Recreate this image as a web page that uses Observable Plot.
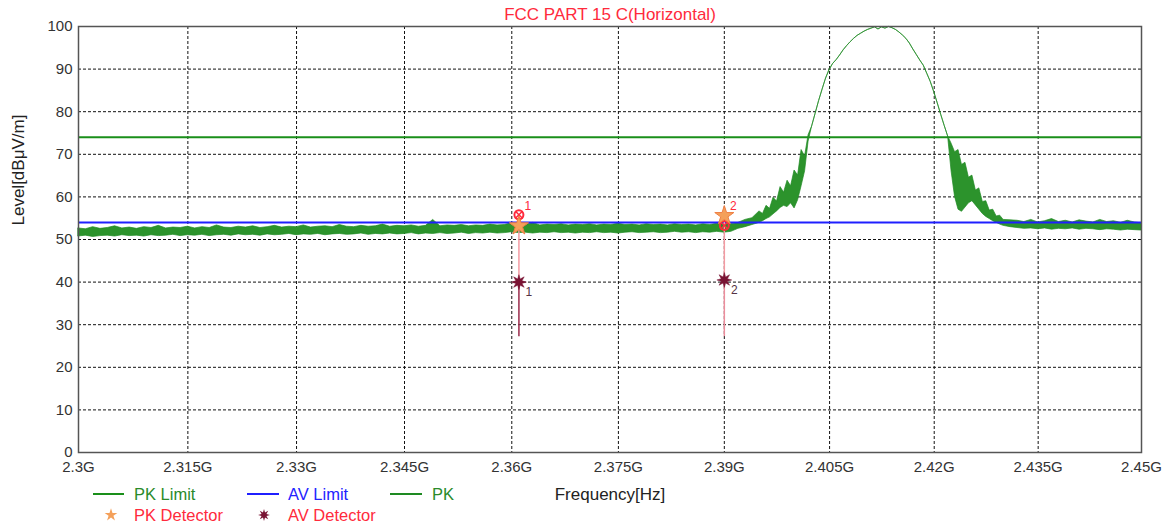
<!DOCTYPE html>
<html>
<head>
<meta charset="utf-8">
<script src="https://cdn.jsdelivr.net/npm/d3@7"></script>
<script src="https://cdn.jsdelivr.net/npm/@observablehq/plot@0.6"></script>
<style>
  body { margin: 0; background: #fff; font-family: Arial, "Liberation Sans", sans-serif; }
  #wrap { position: relative; width: 1169px; height: 527px; overflow: hidden; }
  .lg { position: absolute; font-size: 16.5px; line-height: 18px; white-space: nowrap; }
  .ln { position: absolute; height: 0; border-top: 2px solid; }
  .ic { position: absolute; }
</style>
</head>
<body>
<div id="wrap"></div>
<script>
// ---- chart text ----
const chartTitle = "FCC PART 15 C(Horizontal)";
const yLabel = "Level[dBμV/m]";
const xLabel = "Frequency[Hz]";

// ---- axes ----
const xTicks = [2.3, 2.315, 2.33, 2.345, 2.36, 2.375, 2.39, 2.405, 2.42, 2.435, 2.45];
const xTickLabels = ["2.3G", "2.315G", "2.33G", "2.345G", "2.36G", "2.375G", "2.39G", "2.405G", "2.42G", "2.435G", "2.45G"];
const yTicks = [0, 10, 20, 30, 40, 50, 60, 70, 80, 90, 100];

// ---- limits (dBμV/m) ----
const pkLimit = 74;
const avLimit = 54;

// ---- PK sweep: frequency (MHz) with min / max level per bin (dBμV/m) ----
const traceMHz = [
  2300, 2301, 2302, 2303, 2304, 2305, 2306, 2307, 2308, 2309,
  2310, 2311, 2312, 2313, 2314, 2315, 2316, 2317, 2318, 2319,
  2320, 2321, 2322, 2323, 2324, 2325, 2326, 2327, 2328, 2329,
  2330, 2331, 2332, 2333, 2334, 2335, 2336, 2337, 2338, 2339,
  2340, 2341, 2342, 2343, 2344, 2345, 2346, 2347, 2348, 2349,
  2350, 2351, 2352, 2353, 2354, 2355, 2356, 2357, 2358, 2359,
  2360, 2361, 2362, 2363, 2364, 2365, 2366, 2367, 2368, 2369,
  2370, 2371, 2372, 2373, 2374, 2375, 2376, 2377, 2378, 2379,
  2380, 2381, 2382, 2383, 2384, 2385, 2386, 2387, 2388, 2389,
  2390, 2391,
  2392, 2393, 2394, 2395, 2395.5, 2396, 2396.5, 2397, 2397.5, 2398,
  2398.5, 2399, 2399.5, 2400, 2400.5, 2401, 2401.5, 2402, 2402.5, 2403,
  2403.5, 2404, 2404.5, 2405,
  2405.5, 2406, 2406.5, 2407, 2407.5, 2408, 2408.5, 2409, 2409.5, 2410,
  2410.5, 2411, 2411.5, 2412, 2412.5, 2413, 2413.5, 2414, 2414.5, 2415,
  2415.5, 2416, 2416.5, 2417, 2417.5, 2418, 2418.5, 2419, 2419.5, 2420,
  2420.5, 2421, 2421.5, 2422,
  2422.5, 2423, 2423.5, 2424, 2424.5, 2425, 2425.5, 2426, 2426.5, 2427,
  2427.5, 2428, 2428.5, 2429, 2429.5, 2430, 2431,
  2432, 2433, 2434, 2435, 2436, 2437, 2438, 2439, 2440, 2441,
  2442, 2443, 2444, 2445, 2446, 2447, 2448, 2449, 2450
];
const traceLow = [
  50.7, 50.9, 50.6, 50.8, 50.9, 50.7, 51.0, 50.8, 50.9, 50.7,
  51.0, 50.8, 50.9, 51.1, 50.8, 51.0, 50.9, 51.1, 50.8, 51.0,
  51.1, 50.9, 51.2, 51.0, 51.1, 50.9, 51.2, 51.0, 51.1, 51.3,
  51.0, 51.2, 51.1, 51.3, 51.0, 51.2, 51.3, 51.1, 51.2, 51.4,
  51.1, 51.3, 51.2, 51.4, 51.2, 51.3, 51.5, 51.2, 51.4, 51.3,
  51.5, 51.3, 51.4, 51.6, 51.3, 51.5, 51.4, 51.6, 51.4, 51.5,
  51.7, 51.5, 51.6, 51.4, 51.6, 51.5, 51.7, 51.5, 51.6, 51.4,
  51.6, 51.5, 51.7, 51.5, 51.6, 51.4, 51.6, 51.7, 51.5, 51.6,
  51.7, 51.5, 51.6, 51.8, 51.6, 51.7, 51.5, 51.7, 51.6, 51.8,
  51.6, 51.8,
  52.5, 52.9, 53.4, 53.9, 54.3, 54.8, 55.2, 55.9, 56.6, 57.4,
  57.9, 57.6, 58.5, 57.3, 59.2, 62.5, 66.0, 73.0, 76.5, 79.5,
  82.5, 85.2, 87.8, 89.8,
  91.2, 92.1, 93.2, 94.4, 95.4, 96.3, 97.1, 97.8, 98.3, 98.8,
  99.2, 99.5, 99.8, 99.3, 99.8, 99.5, 99.9, 99.6, 99.2, 98.6,
  97.9, 97.1, 96.0, 94.6, 93.3, 92.0, 90.8, 88.9, 87.0, 84.6,
  82.0, 79.3, 76.7, 74.2,
  66.0, 60.0, 57.0, 56.5, 57.5, 58.5, 59.0, 58.0, 57.0, 56.0,
  55.3, 54.8, 54.3, 53.9, 53.5, 53.2, 52.9,
  52.7, 52.5, 52.6, 52.4, 52.6, 52.3, 52.5, 52.4, 52.6, 52.3,
  52.5, 52.4, 52.2, 52.4, 52.3, 52.1, 52.3, 52.2, 52.1
];
const traceHigh = [
  52.6, 52.4, 52.9, 52.5, 52.7, 53.1, 52.6, 52.8, 52.5, 52.9,
  52.7, 53.2, 52.6, 52.8, 52.7, 53.0, 52.6, 52.9, 52.7, 53.3,
  52.8, 52.7, 53.0, 52.8, 53.1, 52.7, 52.9, 53.2, 52.8, 53.0,
  52.9, 53.3, 52.8, 53.0, 53.1, 52.9, 53.4, 53.0, 52.9, 53.2,
  53.0, 53.1, 53.5, 53.0, 53.2, 53.1, 53.3, 53.0, 53.2, 54.6,
  53.1, 53.3, 53.2, 53.4, 53.1, 53.3, 53.2, 53.5, 53.3, 53.4,
  53.8, 53.6, 53.4, 53.9, 53.3, 53.5, 53.4, 53.6, 53.3, 53.5,
  53.4, 53.6, 53.3, 53.5, 53.4, 53.7, 53.4, 53.5, 53.3, 53.6,
  53.4, 53.5, 53.3, 53.6, 53.4, 53.5, 53.3, 53.6, 53.4, 53.7,
  53.5, 53.6,
  53.9, 54.6, 55.0, 56.6, 56.0, 57.9, 57.2, 59.8, 58.9, 62.3,
  61.0, 63.8, 62.5, 66.2, 65.0, 71.0, 69.5, 74.5, 76.5, 79.5,
  82.5, 85.2, 87.8, 89.8,
  91.2, 92.1, 93.2, 94.4, 95.4, 96.3, 97.1, 97.8, 98.3, 98.8,
  99.2, 99.5, 99.8, 99.3, 99.8, 99.5, 99.9, 99.6, 99.2, 98.6,
  97.9, 97.1, 96.0, 94.6, 93.3, 92.0, 90.8, 88.9, 87.0, 84.6,
  82.0, 79.3, 76.7, 74.2,
  72.5, 70.5, 71.0, 67.5, 68.0, 64.5, 65.0, 61.5, 62.0, 58.8,
  59.0, 56.8, 57.0, 55.4, 55.6, 54.6, 54.5,
  54.4, 54.1, 54.6, 54.0, 54.3, 54.8, 54.1, 54.4, 54.0, 54.5,
  54.2, 54.0, 54.6, 54.1, 54.3, 53.9, 54.4, 54.0, 53.8
];

// ---- markers ----
const markerIds = ["1", "2"];
const markerGHz = [2.361, 2.39];
const pkDetector = [53.2, 55.6];   // PK detector readings
const pkMarker = [55.8, 53.3];     // marker readout on the PK sweep
const avDetector = [40.0, 40.5];   // AV detector readings
const stemFloor = [27.2, 27.2];

// ---- colours ----
const cPkLimit = "#1a8f1a";
const cAvLimit = "#1f1fff";
const cTrace = "#1e8a22";
const cPkDet = "#f4a05a";
const cAvDet = "#7a1434";
const cRed = "#ff2a3c";

// tables for the marks
const trace = traceMHz.map((m, i) => ({f: m / 1000, lo: traceLow[i], hi: traceHigh[i]}));
const markers = markerIds.map((id, i) => ({
  id, f: markerGHz[i], pk: pkDetector[i], mk: pkMarker[i], av: avDetector[i], floor: stemFloor[i], i
}));

// eight-point star used for the AV detector
const burst = {
  draw(ctx, size) {
    const R = Math.sqrt(size / Math.PI) * 1.35, r = R * 0.45;
    for (let k = 0; k < 16; ++k) {
      const a = k * Math.PI / 8 - Math.PI / 2, q = k % 2 ? r : R;
      const x = q * Math.cos(a), y = q * Math.sin(a);
      k ? ctx.lineTo(x, y) : ctx.moveTo(x, y);
    }
    ctx.closePath();
  }
};

const gridX = xTicks.slice(1, -1);
const gridY = yTicks.slice(1, -1);

const chart = Plot.plot({
  width: 1169,
  height: 527,
  marginLeft: 78,
  marginRight: 28,
  marginTop: 26,
  marginBottom: 75,
  style: {fontFamily: "Arial, 'Liberation Sans', sans-serif", fontSize: "15px", background: "#fff"},
  x: {type: "log", domain: [2.3, 2.45]},
  y: {domain: [0, 100]},
  marks: [
    Plot.ruleX(gridX, {stroke: "#111", strokeWidth: 1, strokeDasharray: "3,2"}),
    Plot.ruleY(gridY, {stroke: "#111", strokeWidth: 1, strokeDasharray: "3,2"}),
    Plot.axisX(xTicks, {
      tickSize: 0, tickPadding: 9, fontSize: 15, fill: "#333", label: null,
      tickFormat: d => xTickLabels[xTicks.indexOf(d)]
    }),
    Plot.axisY(yTicks, {tickSize: 0, tickPadding: 6, fontSize: 15, fill: "#333", label: null}),
    Plot.ruleY([pkLimit], {stroke: cPkLimit, strokeWidth: 2}),
    Plot.areaY(trace, {x: "f", y1: "lo", y2: "hi", fill: "#2c932c", stroke: cTrace, strokeWidth: 0.7}),
    Plot.ruleY([avLimit], {stroke: cAvLimit, strokeWidth: 2}),
    // marker stems
    Plot.ruleX(markers, {x: "f", y1: "av", y2: d => Math.max(d.pk, d.mk), stroke: "#f39aa2", strokeWidth: 1.5}),
    Plot.ruleX(markers, {x: "f", y1: "floor", y2: "av", stroke: d => d.i === 0 ? "#9a2a4a" : "#ec8d9c", strokeWidth: 1.5}),
    // PK markers
    Plot.dot(markers, {x: "f", y: "mk", r: 4.5, stroke: cRed, strokeWidth: 2, fill: "none"}),
    Plot.dot(markers, {x: "f", y: "mk", r: 3.5, symbol: "times", stroke: cRed, strokeWidth: 1.5}),
    Plot.dot(markers, {x: "f", y: "pk", r: 6, symbol: "star", fill: cPkDet, stroke: "#ef7f45", strokeWidth: 1}),
    Plot.text(markers, {x: "f", y: d => Math.max(d.pk, d.mk), text: "id", dx: 9, dy: -9, fill: cRed, fontSize: 12}),
    // AV markers
    Plot.dot(markers, {x: "f", y: "av", r: 5.5, symbol: burst, fill: cAvDet, stroke: cAvDet, strokeWidth: 0.5}),
    Plot.text(markers, {x: "f", y: "av", text: "id", dx: 10, dy: 10, fill: "#553344", fontSize: 12}),
    Plot.frame({stroke: "#555", strokeWidth: 1.5}),
    // titles
    Plot.text([chartTitle], {text: d => d, frameAnchor: "top", lineAnchor: "middle", dy: -12, fill: cRed, fontSize: 17}),
    Plot.text([yLabel], {text: d => d, frameAnchor: "left", dx: -60, dy: -14, rotate: -90, fill: "#222", fontSize: 17}),
    Plot.text([xLabel], {text: d => d, frameAnchor: "bottom", lineAnchor: "middle", dy: 42, fill: "#222", fontSize: 17})
  ]
});

const wrap = document.getElementById("wrap");
wrap.appendChild(chart);

// legend below the plot
const legendLines = [
  {label: "PK Limit", color: cPkLimit, text: "#2a8a2a", x0: 93, x1: 124, tx: 134},
  {label: "AV Limit", color: cAvLimit, text: "#2323ff", x0: 247, x1: 279, tx: 288},
  {label: "PK", color: cTrace, text: "#2a8a2a", x0: 390, x1: 422, tx: 432}
];
const legendSymbols = [
  {label: "PK Detector", kind: "star", x: 111, tx: 134},
  {label: "AV Detector", kind: "burst", x: 264, tx: 288}
];
const row1 = 494, row2 = 515;
for (const d of legendLines) {
  const l = document.createElement("div");
  l.className = "ln";
  l.style.cssText = `left:${d.x0}px;width:${d.x1 - d.x0}px;top:${row1 - 1}px;border-color:${d.color}`;
  wrap.appendChild(l);
  const t = document.createElement("div");
  t.className = "lg";
  t.style.cssText = `left:${d.tx}px;top:${row1 - 9}px;color:${d.text}`;
  t.textContent = d.label;
  wrap.appendChild(t);
}
for (const d of legendSymbols) {
  const sym = d.kind === "star" ? d3.symbol(d3.symbolStar, 50) : d3.symbol(burst, 60);
  const svg = d3.create("svg").attr("class", "ic").attr("width", 16).attr("height", 16)
    .style("left", `${d.x - 8}px`).style("top", `${row2 - 8}px`);
  svg.append("path").attr("transform", "translate(8,8)").attr("d", sym())
    .attr("fill", d.kind === "star" ? cPkDet : cAvDet);
  wrap.appendChild(svg.node());
  const t = document.createElement("div");
  t.className = "lg";
  t.style.cssText = `left:${d.tx}px;top:${row2 - 9}px;color:${cRed}`;
  t.textContent = d.label;
  wrap.appendChild(t);
}
</script>
</body>
</html>
